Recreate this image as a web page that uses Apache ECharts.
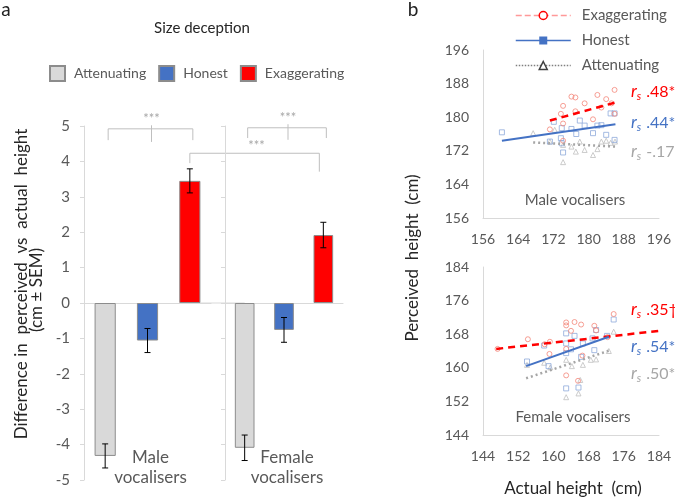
<!DOCTYPE html>
<html>
<head>
<meta charset="utf-8">
<script src="https://cdn.jsdelivr.net/npm/echarts@6/dist/echarts.min.js"></script>
<style>
  html, body { margin: 0; padding: 0; background: #fff; }
  #main { width: 675px; height: 500px; }
</style>
</head>
<body>
<div id="main"></div>
<script>
const FONT = 'Lato, "Noto Sans", sans-serif'
const GREY = '#595959'
const AXIS = '#d9d9d9'

// panel a
const conditions = ['Attenuating', 'Honest', 'Exaggerating']
const condColors = ['#d9d9d9', '#4472c4', '#ff0000']
const maleMean = [-4.32, -1.06, 3.45]
const maleSem = [0.34, 0.34, 0.34]
const femaleMean = [-4.09, -0.76, 1.92]
const femaleSem = [0.36, 0.35, 0.36]

// panel b, [actual, perceived]
const maleExag = [[185.9,186.5],[176.1,184.9],[177.0,184.7],[182.0,185.3],[184.0,184.3],[179.1,183.3],[185.2,183.3],[174.2,182.7],[182.9,182.3],[177.0,181.4],[173.7,180.8],[181.0,179.5],[185.9,180.8],[174.2,178.5],[171.2,177.1],[174.2,174.4]]
const maleHonest = [[160.3,176.4],[172.1,178.9],[173.9,177.4],[176.1,177.2],[177.2,176.0],[179.1,178.0],[178.0,179.2],[182.0,178.0],[182.9,178.1],[181.0,176.2],[184.0,175.8],[185.0,180.9],[185.9,180.9],[185.9,174.6],[171.2,174.2],[173.7,175.0],[173.9,173.8],[174.2,171.6]]
const maleAtten = [[167.4,176.2],[172.3,177.0],[171.2,174.2],[174.2,173.4],[176.1,173.0],[178.0,174.2],[177.1,171.8],[179.1,172.2],[181.0,171.0],[182.0,172.4],[174.2,169.3],[182.9,174.2],[184.0,174.4],[185.0,173.9],[186.0,174.2]]
const femaleExag = [[147.3,164.5],[154.2,166.8],[158.0,165.6],[159.2,166.2],[159.1,163.3],[162.9,170.8],[162.9,170.1],[164.8,170.9],[166.3,170.3],[164.0,168.8],[162.9,164.5],[162.9,158.2],[165.6,156.9],[166.6,162.9],[169.3,170.0],[169.7,168.9],[173.7,172.8],[172.3,167.3],[184.5,166.2]]
const femaleHonest = [[154.0,161.5],[157.9,165.3],[158.9,160.4],[162.9,168.2],[162.9,165.8],[162.9,163.5],[162.9,155.1],[164.8,167.6],[164.0,164.4],[166.7,165.8],[166.3,162.6],[165.7,155.3],[169.3,164.2],[169.7,169.0],[168.9,167.0],[172.2,167.6],[173.7,171.5]]
const femaleAtten = [[154.0,160.7],[157.9,161.2],[159.3,160.1],[162.9,161.9],[162.9,153.0],[164.2,160.4],[166.7,160.7],[165.7,153.9],[166.1,157.1],[169.7,162.0],[168.5,161.9],[172.6,164.0],[173.7,168.6]]

// trend lines (end points)
const maleExagFit = [[171.2,179.2],[186.1,183.5]]
const maleHonestFit = [[160.3,174.4],[186.1,178.3]]
const maleAttenFit = [[167.4,174.0],[186.1,173.0]]
const femaleExagFit = [[147.0,164.5],[184.1,168.8]]
const femaleHonestFit = [[153.8,160.4],[172.6,167.4]]
const femaleAttenFit = [[153.8,157.5],[172.7,164.1]]

const rsMale = ['.48*', '.44*', '-.17']
const rsFemale = ['.35\u2020', '.54*', '.50*']

const chart = echarts.init(document.getElementById('main'))

const barAxisY = (idx, showLabel) => ({
  type: 'value', gridIndex: idx, min: -5, max: 5, interval: 1,
  axisLine: { show: true, lineStyle: { color: AXIS } },
  axisTick: { show: true, length: 4, lineStyle: { color: AXIS } },
  axisLabel: { show: showLabel, color: GREY, fontSize: 15, fontFamily: FONT, margin: 14 },
  splitLine: { show: false }
})
const barAxisX = idx => ({
  type: 'category', gridIndex: idx, data: conditions,
  axisLine: { lineStyle: { color: AXIS } },
  axisTick: { length: 4, lineStyle: { color: AXIS } },
  axisLabel: { show: false }
})
const scatAxis = (idx, min, max) => ({
  type: 'value', gridIndex: idx, min: min, max: max, interval: 8,
  axisLine: { show: true, lineStyle: { color: AXIS } },
  axisTick: { show: false },
  axisLabel: { color: GREY, fontSize: 14, fontFamily: FONT, margin: 14 },
  splitLine: { show: false }
})

const barSeries = (idx, means) => conditions.map((c, i) => ({
  name: c, type: 'bar', xAxisIndex: idx, yAxisIndex: idx,
  barWidth: '50%', barGap: '-100%',
  itemStyle: { color: condColors[i], borderColor: '#8c8c8c', borderWidth: 1 },
  data: means.map((m, j) => (j === i ? m : '-'))
}))

const errSeries = (idx, means, sems) => ({
  type: 'custom', xAxisIndex: idx, yAxisIndex: idx, z: 10,
  data: means.map((m, i) => [i, m - sems[i], m + sems[i]]),
  renderItem: (params, api) => {
    const lo = api.coord([api.value(0), api.value(1)])
    const hi = api.coord([api.value(0), api.value(2)])
    const st = { stroke: '#000', lineWidth: 1 }
    return {
      type: 'group',
      children: [
        { type: 'line', shape: { x1: lo[0], y1: lo[1], x2: hi[0], y2: hi[1] }, style: st },
        { type: 'line', shape: { x1: lo[0] - 3, y1: lo[1], x2: lo[0] + 3, y2: lo[1] }, style: st },
        { type: 'line', shape: { x1: hi[0] - 3, y1: hi[1], x2: hi[0] + 3, y2: hi[1] }, style: st }
      ]
    }
  }
})

const pts = (name, idx, data, symbol, color) => ({
  name: name, type: 'scatter', xAxisIndex: idx, yAxisIndex: idx,
  symbol: symbol, symbolSize: 5, data: data,
  itemStyle: { color: 'rgba(0,0,0,0)', borderColor: color, borderWidth: 1 }
})
const fit = (name, idx, data, symbol, color, type, width) => ({
  name: name, type: 'line', xAxisIndex: idx, yAxisIndex: idx,
  symbol: symbol, showSymbol: false, data: data, z: 5,
  lineStyle: { color: color, type: type, width: width }
})

const option = {
  animation: false,
  backgroundColor: '#fff',
  grid: [
    { left: 84, top: 126, width: 127, height: 354 },
    { left: 225, top: 126, width: 118, height: 354 },
    { left: 483, top: 50, width: 176, height: 168 },
    { left: 483, top: 267, width: 176, height: 168 }
  ],
  xAxis: [barAxisX(0), barAxisX(1), scatAxis(2, 156, 196), scatAxis(3, 144, 184)],
  yAxis: [barAxisY(0, true), barAxisY(1, false), scatAxis(2, 156, 196), scatAxis(3, 144, 184)],
  legend: [
    {
      data: conditions, left: 44, top: 60, itemWidth: 15, itemHeight: 15, itemGap: 12,
      icon: 'rect',
      textStyle: { color: GREY, fontSize: 14, fontFamily: FONT, padding: [0, 0, 0, 4] }
    },
    {
      data: [
        { name: 'Exaggerating fit', itemStyle: { color: '#fff', borderColor: '#ff0000', borderWidth: 1.5 }, lineStyle: { color: '#ff9999', type: 'dashed', width: 1.5 } },
        { name: 'Honest fit', itemStyle: { color: '#4472c4', borderWidth: 0 }, lineStyle: { color: '#4472c4', type: 'solid', width: 1.5 } },
        { name: 'Attenuating fit', itemStyle: { color: '#fff', borderColor: '#404040', borderWidth: 1.5 }, lineStyle: { color: '#7f7f7f', type: 'dotted', width: 1.5 } }
      ],
      orient: 'vertical', left: 510, top: 3, itemWidth: 55, itemHeight: 10, itemGap: 10,
      formatter: n => n.replace(' fit', ''),
      textStyle: { color: GREY, fontSize: 15, fontFamily: FONT, padding: [0, 0, 0, 6] }
    }
  ],
  series: [
    ...barSeries(0, maleMean),
    ...barSeries(1, femaleMean),
    errSeries(0, maleMean, maleSem),
    errSeries(1, femaleMean, femaleSem),
    pts('male atten', 2, maleAtten, 'triangle', '#bfbfbf'),
    pts('male honest', 2, maleHonest, 'rect', '#8eaadb'),
    pts('male exag', 2, maleExag, 'circle', '#f4877a'),
    pts('female atten', 3, femaleAtten, 'triangle', '#bfbfbf'),
    pts('female honest', 3, femaleHonest, 'rect', '#8eaadb'),
    pts('female exag', 3, femaleExag, 'circle', '#f4877a'),
    fit('Exaggerating fit', 2, maleExagFit, 'circle', '#ff0000', [7, 5], 2.5),
    fit('Honest fit', 2, maleHonestFit, 'rect', '#4472c4', 'solid', 2),
    fit('Attenuating fit', 2, maleAttenFit, 'triangle', '#a6a6a6', [2, 3], 2.5),
    fit('Exaggerating fit', 3, femaleExagFit, 'circle', '#ff0000', [7, 5], 2.5),
    fit('Honest fit', 3, femaleHonestFit, 'rect', '#4472c4', 'solid', 2),
    fit('Attenuating fit', 3, femaleAttenFit, 'triangle', '#a6a6a6', [2, 3], 2.5)
  ]
}
chart.setOption(option)

// annotations placed from data coordinates
const px = (g, cat, v) => chart.convertToPixel({ xAxisIndex: g, yAxisIndex: g }, [cat, v])
const brk = { stroke: '#bfbfbf', lineWidth: 1, fill: null }
const txt = (x, y, text, size, color, extra) => Object.assign({
  type: 'text', x: x, y: y,
  style: Object.assign({ text: text, fill: color, fontSize: size, fontFamily: FONT, align: 'center', verticalAlign: 'middle', textAlign: 'center', textVerticalAlign: 'middle' }, extra && extra.style)
}, extra && extra.el)

const bracket = (g, v1, v2) => {
  const a1 = px(g, 0, v2), a0 = px(g, 0, v1)
  const c1 = px(g, 2, v2), c0 = px(g, 2, v1)
  const m0 = px(g, 1, v1 - 0.05), m1 = px(g, 1, v2 + 0.1)
  return [
    { type: 'polyline', shape: { points: [[a0[0] + 3, a0[1]], [a1[0] + 3, a1[1]], [c1[0] + 3, c1[1]], [c0[0] + 3, c0[1]]] }, style: brk },
    { type: 'line', shape: { x1: m0[0] + 4, y1: m0[1], x2: m1[0] + 4, y2: m1[1] }, style: brk },
    txt(m1[0] + 4, m1[1] - 6, '***', 13, '#a6a6a6')
  ]
}
const l0 = px(0, 2, 3.95), l1 = px(0, 2, 4.23)
const r1 = px(1, 2, 4.23), r0 = px(1, 2, 3.71)
const z0 = px(0, 2, 0), z1 = px(1, 0, 0)
const maleMid = px(0, 1, -4.6), femaleMid = px(1, 1, -4.6)

const rsText = (x, y, val, color) => ({
  type: 'text', x: x, y: y,
  style: {
    text: '{r|r}{s|s}{v|' + val + '}', fill: color, verticalAlign: 'middle', textVerticalAlign: 'middle',
    rich: {
      r: { fontSize: 17, fontStyle: 'italic', fontFamily: FONT, fill: color },
      s: { fontSize: 11, fontStyle: 'italic', fontFamily: FONT, fill: color, padding: [9, 0, 0, 0] },
      v: { fontSize: 16, fontFamily: FONT, fill: color, padding: [0, 0, 0, 5] }
    }
  }
})
const rsColors = ['#ff0000', '#4472c4', '#a6a6a6']
const rot = { el: { rotation: Math.PI / 2 } }

chart.setOption({
  graphic: [
    txt(6, 10, 'a', 19, '#222'),
    txt(413, 10, 'b', 19, '#222'),
    txt(202, 28, 'Size deception', 15, '#262626'),
    txt(22, 284, 'Difference in  perceived  vs  actual  height', 17, '#262626', rot),
    txt(37, 290, '(cm \u00b1 SEM)', 17, '#262626', rot),
    txt(maleMid[0] + 3, maleMid[1] + 2, 'Male\nvocalisers', 17, GREY, { style: { lineHeight: 20 } }),
    txt(femaleMid[0] + 3, femaleMid[1] + 2, 'Female\nvocalisers', 17, GREY, { style: { lineHeight: 20 } }),
    ...bracket(0, 4.6, 4.92),
    ...bracket(1, 4.66, 4.95),
    { type: 'polyline', shape: { points: [[l0[0], l0[1]], [l1[0], l1[1]], [r1[0] - 4, r1[1]], [r0[0] - 4, r0[1]]] }, style: brk },
    txt((l1[0] + r1[0]) / 2, l1[1] - 7, '***', 13, '#a6a6a6'),
    { type: 'line', shape: { x1: z0[0], y1: z0[1], x2: z1[0], y2: z1[1] }, style: { stroke: AXIS, lineWidth: 1 } },
    txt(575, 200, 'Male vocalisers', 15, GREY),
    txt(573, 417, 'Female vocalisers', 15, GREY),
    txt(413, 258, 'Perceived  height  (cm)', 17, '#262626', rot),
    txt(573, 489, 'Actual height  (cm)', 17, '#262626'),
    ...rsMale.map((v, i) => rsText(631, [92, 123, 152][i], v, rsColors[i])),
    ...rsFemale.map((v, i) => rsText(631, [310, 347, 374][i], v, rsColors[i]))
  ]
})
</script>
</body>
</html>
